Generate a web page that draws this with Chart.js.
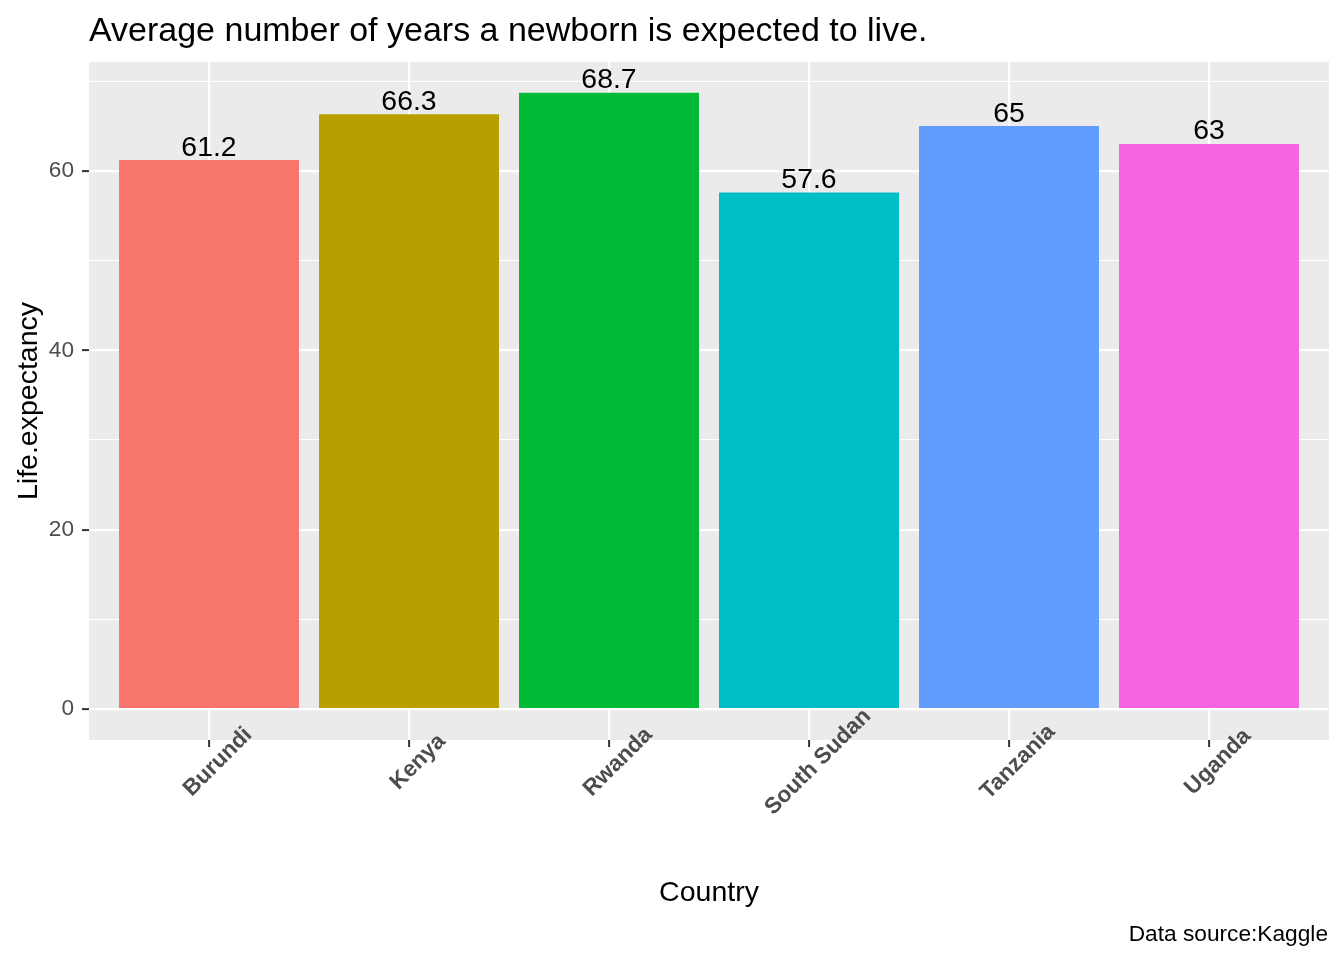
<!DOCTYPE html>
<html>
<head>
<meta charset="utf-8">
<title>Life expectancy</title>
<script src="https://cdn.jsdelivr.net/npm/chart.js@4.4.1/dist/chart.umd.min.js"></script>
<style>
  html, body { margin: 0; padding: 0; background: #ffffff; }
  canvas { display: block; }
</style>
</head>
<body>
<canvas id="grafico" width="1344" height="960"></canvas>
<script>
// dados
const countries = ["Burundi", "Kenya", "Rwanda", "South Sudan", "Tanzania", "Uganda"];
const lifeExpectancy = [61.2, 66.3, 68.7, 57.6, 65, 63];
const barColors = ["#F8766D", "#B79F00", "#00BA38", "#00BFC4", "#619CFF", "#F564E3"];
const yGridTicks = [0, 10, 20, 30, 40, 50, 60, 70];
const yLabelTicks = [0, 20, 40, 60];

const FONT = '"Liberation Sans", Arial, sans-serif';

// ggplot style expansion: 5% on y, 0.6 units on a discrete x
const yTop = Math.max(...lifeExpectancy);
const yPad = yTop * 0.05;

const ggTheme = {
  id: "ggTheme",
  beforeDraw(chart) {
    const { ctx, chartArea: a } = chart;
    ctx.save();
    ctx.fillStyle = "#EBEBEB";
    ctx.fillRect(a.left, a.top, a.right - a.left, a.bottom - a.top);
    ctx.restore();
  },
  afterDatasetsDraw(chart) {
    const { ctx } = chart;
    const meta = chart.getDatasetMeta(0);
    ctx.save();
    ctx.font = "28.4px " + FONT;
    ctx.fillStyle = "#000000";
    ctx.textAlign = "center";
    ctx.textBaseline = "alphabetic";
    meta.data.forEach((bar, i) => {
      ctx.fillText(String(lifeExpectancy[i]), bar.x, bar.y - 4.5);
    });
    ctx.restore();
  },
  afterDraw(chart) {
    const { ctx, chartArea: a } = chart;
    const xScale = chart.scales.x;
    ctx.save();

    // rotated country labels
    ctx.font = "bold 22.6px " + FONT;
    ctx.fillStyle = "#4D4D4D";
    ctx.textAlign = "center";
    ctx.textBaseline = "middle";
    countries.forEach((name, i) => {
      const px = xScale.getPixelForValue(i + 1);
      ctx.save();
      ctx.translate(px + 9, a.bottom + 22);
      ctx.rotate(-Math.PI / 4);
      ctx.fillText(name, 0, 0);
      ctx.restore();
    });

    // title
    ctx.fillStyle = "#000000";
    ctx.font = "34px " + FONT;
    ctx.textAlign = "left";
    ctx.textBaseline = "alphabetic";
    ctx.fillText("Average number of years a newborn is expected to live.", a.left, 41);

    // axis titles
    ctx.font = "28.5px " + FONT;
    ctx.textAlign = "center";
    ctx.fillText("Country", (a.left + a.right) / 2, 901);
    ctx.save();
    ctx.translate(37, (a.top + a.bottom) / 2);
    ctx.rotate(-Math.PI / 2);
    ctx.fillText("Life.expectancy", 0, 0);
    ctx.restore();

    // caption
    ctx.font = "22.7px " + FONT;
    ctx.textAlign = "right";
    ctx.fillText("Data source:Kaggle", a.right - 1, 941);

    ctx.restore();
  }
};

const grafico = new Chart(document.getElementById("grafico").getContext("2d"), {
  type: "bar",
  data: {
    datasets: [
      {
        label: "Life.expectancy",
        data: lifeExpectancy.map((v, i) => ({ x: i + 1, y: v })),
        backgroundColor: barColors,
        borderWidth: 0,
        categoryPercentage: 0.9,
        barPercentage: 1.0,
      },
    ],
  },
  options: {
    responsive: false,
    animation: false,
    devicePixelRatio: 1,
    layout: { padding: { top: 62, right: 15, left: 0, bottom: 0 } },
    plugins: {
      legend: { display: false },
      title: { display: false },
      tooltip: { enabled: false },
    },
    scales: {
      x: {
        type: "linear",
        offset: false,
        bounds: "ticks",
        min: 1 - 0.6,
        max: countries.length + 0.6,
        afterBuildTicks: (scale) => {
          scale.ticks = countries.map((_, i) => ({ value: i + 1 }));
        },
        afterFit: (scale) => { scale.height = 220; },
        border: { display: false },
        grid: {
          offset: false,
          color: "#FFFFFF",
          lineWidth: 2.2,
          drawTicks: true,
          tickLength: 7,
          tickWidth: 2,
          tickColor: "#333333",
        },
        ticks: { display: false },
      },
      y: {
        type: "linear",
        min: -yPad,
        max: yTop + yPad,
        afterBuildTicks: (scale) => {
          scale.ticks = yGridTicks.map((v) => ({ value: v }));
        },
        afterFit: (scale) => { scale.width = 89; },
        border: { display: false },
        grid: {
          color: "#FFFFFF",
          lineWidth: (c) => (yLabelTicks.includes(c.tick.value) ? 2.2 : 1.1),
          drawTicks: true,
          tickLength: 7,
          tickWidth: 2,
          tickColor: (c) => (yLabelTicks.includes(c.tick.value) ? "#333333" : "rgba(0,0,0,0)"),
        },
        ticks: {
          padding: 8,
          color: "#4D4D4D",
          font: { family: FONT, size: 22.6 },
          callback: (v) => (yLabelTicks.includes(v) ? String(v) : ""),
        },
      },
    },
  },
  plugins: [ggTheme],
});
</script>
</body>
</html>
